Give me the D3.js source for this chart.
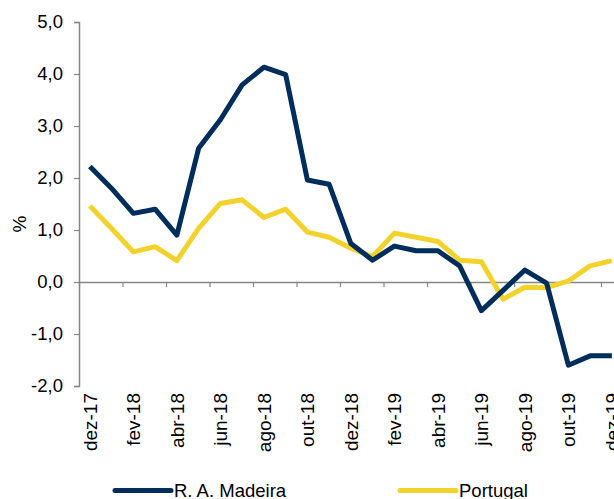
<!DOCTYPE html>
<html>
<head>
<meta charset="utf-8">
<script src="https://cdn.jsdelivr.net/npm/d3@7"></script>
<style>
  body { margin: 0; background: #fff; }
  svg { display: block; }
  text { font-family: "Liberation Sans", Arial, sans-serif; fill: #000; }
</style>
</head>
<body>
<div id="chart"></div>
<script>
// Months on the x axis
var months = ["dez-17","jan-18","fev-18","mar-18","abr-18","mai-18","jun-18","jul-18","ago-18","set-18",
  "out-18","nov-18","dez-18","jan-19","fev-19","mar-19","abr-19","mai-19","jun-19","jul-19",
  "ago-19","set-19","out-19","nov-19","dez-19"];

// Series values (%)
var madeira = [2.22,1.80,1.32,1.40,0.90,2.57,3.12,3.79,4.13,3.99,1.96,1.88,0.74,0.42,0.69,0.60,0.60,0.31,-0.55,-0.16,0.23,-0.02,-1.60,-1.42,-1.42];
var portugal = [1.46,1.03,0.58,0.68,0.41,1.03,1.51,1.58,1.24,1.40,0.96,0.86,0.65,0.49,0.94,0.86,0.78,0.42,0.39,-0.33,-0.10,-0.11,0.02,0.31,0.41];

var yTicks = [-2,-1,0,1,2,3,4,5];
var seriesNames = ["R. A. Madeira", "Portugal"];
var seriesColors = ["#002d5c", "#f3d22b"];

var svgWidth = 614, svgHeight = 499;
var plotLeft = 79, plotTop = 22, plotBottom = 386;
var band = 21.75;
var axisColor = "#868686";

var svg = d3.select("#chart").append("svg")
  .attr("width", svgWidth)
  .attr("height", svgHeight);

// Scales
var xScale = d3.scaleBand()
  .domain(months)
  .range([plotLeft, plotLeft + months.length * band])
  .padding(0);

var xEdge = d3.scaleLinear()
  .domain([0, months.length])
  .range([plotLeft, plotLeft + months.length * band]);

var yScale = d3.scaleLinear()
  .domain([-2, 5])
  .range([plotBottom, plotTop]);

// Y axis
var yAxis = svg.append("g")
  .attr("transform", `translate(${plotLeft},0)`)
  .call(d3.axisLeft(yScale)
    .tickValues(yTicks)
    .tickSize(5)
    .tickPadding(11)
    .tickFormat(d => d.toFixed(1).replace(".", ",")));
yAxis.select(".domain").attr("stroke", axisColor).attr("stroke-width", 1.5);
yAxis.selectAll(".tick line").attr("stroke", axisColor).attr("stroke-width", 1.2);
yAxis.selectAll("text").attr("font-size", "18.5px").attr("font-family", "Liberation Sans, Arial, sans-serif").attr("fill", "#000");

// Zero line with tick marks every two months
var zeroAxis = svg.append("g")
  .attr("transform", `translate(0,${yScale(0)})`)
  .call(d3.axisBottom(xEdge)
    .tickValues(d3.range(0, months.length, 2))
    .tickSize(5)
    .tickSizeOuter(0)
    .tickFormat(""));
zeroAxis.select(".domain").attr("stroke", axisColor).attr("stroke-width", 1.5);
zeroAxis.selectAll(".tick line").attr("stroke", axisColor).attr("stroke-width", 1.2);

// Month labels at the bottom
var labelAxis = svg.append("g")
  .attr("transform", `translate(0,${plotBottom})`)
  .call(d3.axisBottom(xScale)
    .tickValues(months.filter((m, i) => i % 2 === 0))
    .tickSize(0));
labelAxis.select(".domain").remove();
labelAxis.selectAll("text")
  .attr("transform", "rotate(-90)")
  .attr("text-anchor", "end")
  .attr("x", -7)
  .attr("y", 0)
  .attr("dy", "0.35em")
  .attr("font-size", "19px")
  .attr("font-family", "Liberation Sans, Arial, sans-serif")
  .attr("fill", "#000");

// Y axis title
svg.append("text")
  .attr("transform", "translate(26,224) rotate(-90)")
  .attr("text-anchor", "middle")
  .attr("font-size", "19px")
  .text("%");

// Lines
var line = d3.line()
  .x((d, i) => xScale(months[i]) + xScale.bandwidth() / 2)
  .y(d => yScale(d));

[portugal, madeira].forEach(function(values, k) {
  svg.append("path")
    .datum(values)
    .attr("fill", "none")
    .attr("stroke", k === 0 ? seriesColors[1] : seriesColors[0])
    .attr("stroke-width", 5)
    .attr("stroke-linejoin", "round")
    .attr("d", line);
});

// Legend
var legendX = [115, 400];
seriesNames.forEach(function(name, i) {
  svg.append("line")
    .attr("x1", legendX[i]).attr("x2", legendX[i] + 56)
    .attr("y1", 490.5).attr("y2", 490.5)
    .attr("stroke", seriesColors[i])
    .attr("stroke-width", 5)
    .attr("stroke-linecap", "round");
  svg.append("text")
    .attr("x", legendX[i] + 59)
    .attr("y", 497)
    .attr("font-size", "18.5px")
    .text(name);
});
</script>
</body>
</html>
